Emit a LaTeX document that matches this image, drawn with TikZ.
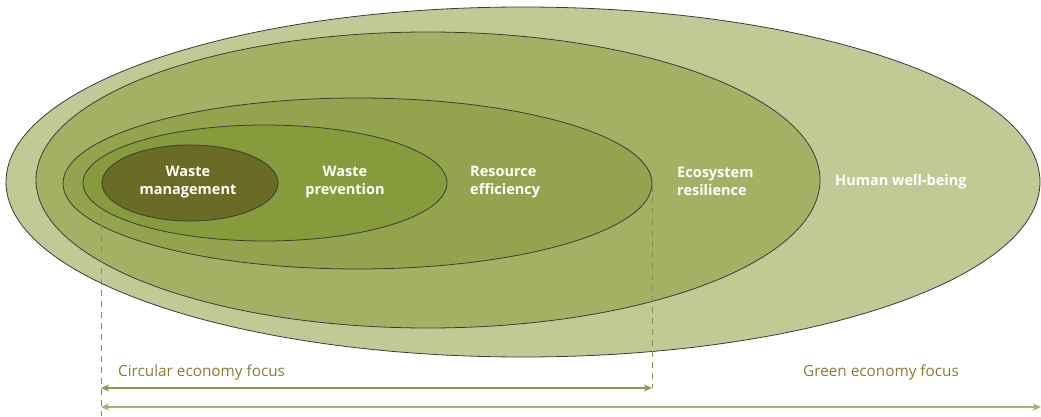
\documentclass[tikz,border=0pt]{standalone}
\usepackage{fontspec}
\setmainfont{Open Sans}
\usetikzlibrary{arrows.meta}
\definecolor{cOuter}{HTML}{C0CA95}
\definecolor{cEco}{HTML}{A4B064}
\definecolor{cRes}{HTML}{93A34E}
\definecolor{cPrev}{HTML}{889B3C}
\definecolor{cMgmt}{HTML}{6A6C25}
\definecolor{cEdge}{HTML}{3C3C3C}
\definecolor{cDash}{HTML}{8C8E4C}
\definecolor{cArrow}{HTML}{8E9A48}
\definecolor{cArrowB}{HTML}{A9B06E}
\definecolor{cFocus}{HTML}{857F2C}
\tikzset{
  ring/.style={draw=cEdge, line width=0.8pt},
  lab/.style={text=white, font=\fontsize{14.5}{18}\selectfont\bfseries, inner sep=0pt},
  focus/.style={text=cFocus, font=\fontsize{15.3}{18}\selectfont, inner sep=0pt, anchor=west},
  guide/.style={draw=cDash, line width=0.8pt, dash pattern=on 6pt off 5pt},
  span/.style={line width=1.4pt, {Stealth[length=8pt,width=7pt,inset=2pt]}-{Stealth[length=8pt,width=7pt,inset=2pt]}}
}
\begin{document}
\begin{tikzpicture}[x=1pt,y=-1pt]
\useasboundingbox (0,0) rectangle (1041,417);
\clip (0,0) rectangle (1041,417);
% ellipses
\draw[ring, fill=cOuter] (523,182) ellipse [x radius=517, y radius=175];
\draw[ring, fill=cEco] (428,180) ellipse [x radius=392, y radius=148];
\draw[ring, fill=cRes] (357.5,183.5) ellipse [x radius=294.5, y radius=85.5];
\draw[ring, fill=cPrev] (265,183) ellipse [x radius=182, y radius=58];
\draw[ring, fill=cMgmt] (190,183) ellipse [x radius=88, y radius=38];
% labels
\node[lab, align=center] (mgmt) at (188,182) {Waste\\management};
\node[lab, align=center] (prev) at (345,182) {Waste\\prevention};
\node[lab, align=left, anchor=west] (res) at (470,182) {Resource\\efficiency};
\node[lab, align=left, anchor=west] (eco) at (677,181) {Ecosystem\\resilience};
\node[lab, anchor=west] (hum) at (835,182) {Human well-being};
% guides
\coordinate (gL1) at (101,213);
\coordinate (gL2) at (101,416);
\coordinate (gR1) at (652,186);
\coordinate (gR2) at (652,388);
\draw[guide] (gL1) -- (gL2);
\draw[guide] (gR1) -- (gR2);
% spans
\coordinate (cL) at (101,388);
\coordinate (gnL) at (101,407);
\coordinate (gnR) at (1041,407);
\draw[span, draw=cArrow, fill=cArrow] (cL) -- (gR2);
\draw[span, draw=cArrowB, fill=cArrowB] (gnL) -- (gnR);
% focus labels
\node[focus] (circ) at (118,372) {Circular economy focus};
\node[focus] (green) at (803,372) {Green economy focus};
\end{tikzpicture}
\end{document}
